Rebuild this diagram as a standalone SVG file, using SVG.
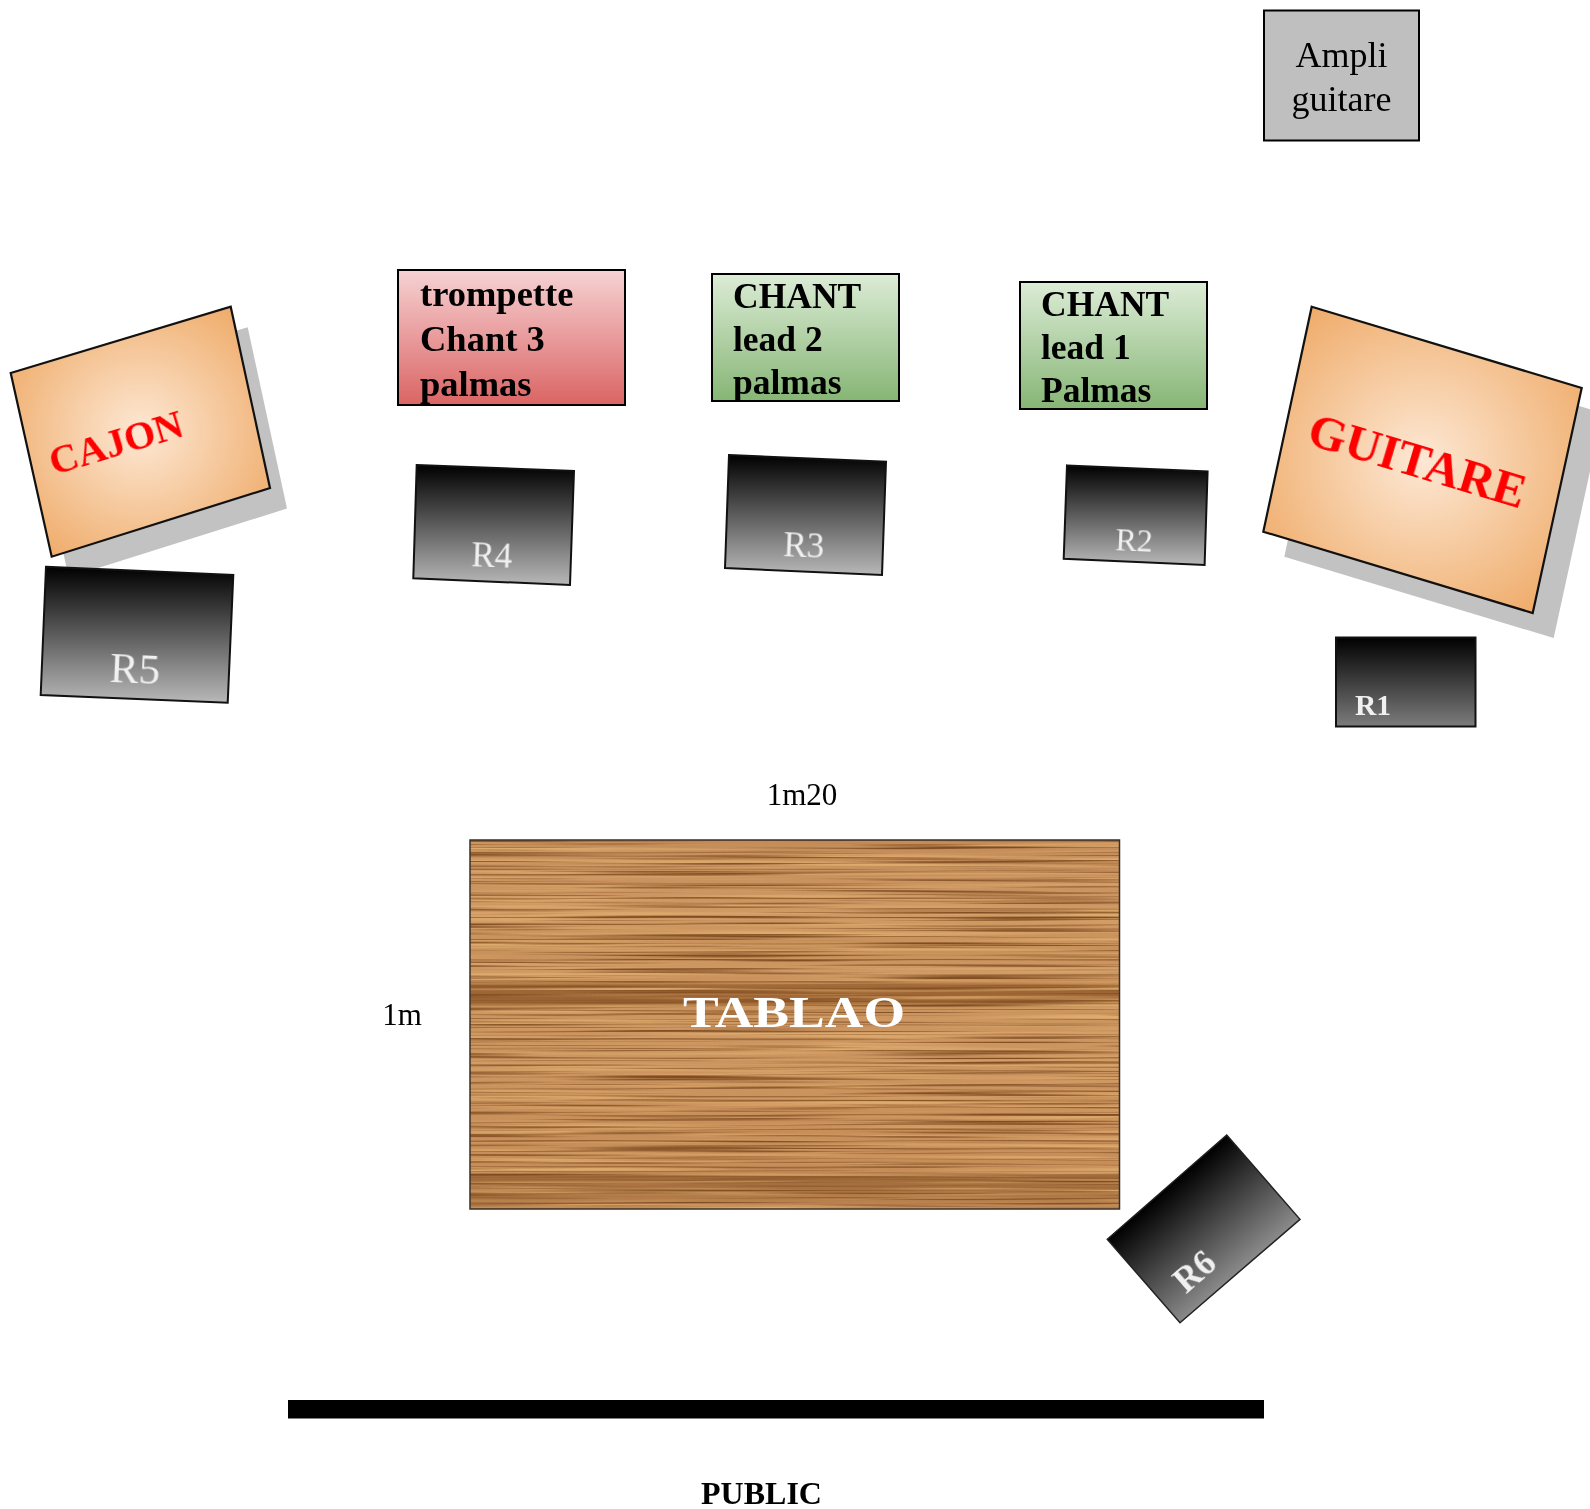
<svg xmlns="http://www.w3.org/2000/svg" width="1590" height="1509" viewBox="0 0 1590 1509">
<style>
text{font-family:"Liberation Serif","Times New Roman",serif;filter:url(#soft)}
.box{stroke:#000;stroke-width:2}
.b{font-weight:bold}
.ln{font-size:36.500px;font-weight:bold;fill:#000}
.ch{font-size:35.500px;font-weight:bold;fill:#000}
.spk{stroke:#111;stroke-width:2;fill:url(#gSpk)}
.lab{fill:#f0f0f0}
.inst{stroke:#111;stroke-width:2.200;fill:url(#gInst)}
.shadow{fill:#c2c2c2}
.red{fill:#f00;font-weight:bold;text-anchor:middle}
</style>
<defs>
<filter id="soft" x="-5%" y="-10%" width="110%" height="120%"><feGaussianBlur stdDeviation="0.45"/></filter>
<linearGradient id="gSpk" x1="0" y1="0" x2="0" y2="1"><stop offset="0" stop-color="#000"/><stop offset="1" stop-color="#b8b8b8"/></linearGradient>
<linearGradient id="gR1" x1="0" y1="0" x2="0" y2="1"><stop offset="0" stop-color="#000"/><stop offset="1" stop-color="#7c7c7c"/></linearGradient>
<linearGradient id="gR6" gradientUnits="userSpaceOnUse" x1="1167" y1="1187" x2="1240" y2="1271"><stop offset="0" stop-color="#000"/><stop offset="1" stop-color="#8a8a8a"/></linearGradient>
<linearGradient id="gRed" x1="0" y1="0" x2="0" y2="1"><stop offset="0" stop-color="#f6d2d3"/><stop offset="1" stop-color="#db6464"/></linearGradient>
<linearGradient id="gGreen" x1="0" y1="0" x2="0" y2="1"><stop offset="0" stop-color="#dcecd6"/><stop offset="1" stop-color="#86b575"/></linearGradient>
<radialGradient id="gInst" cx="0.5" cy="0.5" r="0.6"><stop offset="0" stop-color="#fde8d4"/><stop offset="1" stop-color="#efac6b"/></radialGradient>
<linearGradient id="gWood" x1="0" y1="0" x2="0" y2="1">
<stop offset="0" stop-color="#c48c58"/><stop offset="0.1" stop-color="#c9915e"/><stop offset="0.2" stop-color="#cf9a64"/>
<stop offset="0.3" stop-color="#c8905a"/><stop offset="0.36" stop-color="#cf9a65"/><stop offset="0.385" stop-color="#c58c56"/>
<stop offset="0.395" stop-color="#a06836"/><stop offset="0.44" stop-color="#9a6232"/><stop offset="0.455" stop-color="#cc955f"/>
<stop offset="0.6" stop-color="#cd9661"/><stop offset="0.75" stop-color="#c9905b"/><stop offset="0.9" stop-color="#c68d58"/>
<stop offset="0.91" stop-color="#a06a3a"/><stop offset="0.96" stop-color="#ac7543"/><stop offset="1" stop-color="#c68d58"/>
</linearGradient>
<filter id="grain" x="0" y="0" width="1" height="1" color-interpolation-filters="sRGB">
<feTurbulence type="fractalNoise" baseFrequency="0.0035 0.42" numOctaves="2" seed="7" result="n"/>
<feColorMatrix in="n" type="matrix" values="0 0 0 0 0.5  0 0 0 0 0.3  0 0 0 0 0.13  3.4 0 0 0 -1.65" result="dark"/>
<feTurbulence type="fractalNoise" baseFrequency="0.003 0.25" numOctaves="2" seed="21" result="m"/>
<feColorMatrix in="m" type="matrix" values="0 0 0 0 0.87  0 0 0 0 0.67  0 0 0 0 0.43  3 0 0 0 -1.4" result="light"/>
<feMerge result="mix"><feMergeNode in="SourceGraphic"/><feMergeNode in="light"/><feMergeNode in="dark"/></feMerge>
<feGaussianBlur in="mix" stdDeviation="0.6 0.4"/>
</filter>
</defs>
<rect width="1590" height="1509" fill="#fff"/>

<g id="ampli"><rect class="box" x="1264" y="10.500" width="155" height="130" fill="#bfbfbf"/>
<text x="1341.500" y="67" font-size="36" text-anchor="middle">Ampli</text>
<text x="1341.500" y="111" font-size="36" text-anchor="middle">guitare</text></g>

<g id="trompette"><rect class="box" x="398" y="270" width="227" height="135" fill="url(#gRed)"/>
<text class="ln" x="420" y="306">trompette</text><text class="ln" x="420" y="351">Chant 3</text><text class="ln" x="420" y="396">palmas</text></g>

<g id="chant2"><rect class="box" x="712" y="274" width="187" height="127" fill="url(#gGreen)"/>
<text class="ch" x="733" y="308">CHANT</text><text class="ch" x="733" y="351">lead 2</text><text class="ch" x="733" y="394">palmas</text></g>

<g id="chant1"><rect class="box" x="1020" y="282" width="187" height="127" fill="url(#gGreen)"/>
<text class="ch" x="1041" y="316">CHANT</text><text class="ch" x="1041" y="359">lead 1</text><text class="ch" x="1041" y="402">Palmas</text></g>

<g id="cajon">
<polygon class="shadow" points="27.700,393.500 247.700,327.200 287,508.500 68.700,577.200"/>
<polygon class="inst" points="10.700,373 230.700,306.700 270,488 51.700,556.700"/>
<text class="red" x="115.500" y="456" font-size="40" transform="rotate(-16.800 115.500 441)">CAJON</text></g>

<g id="guitare">
<polygon class="shadow" points="1332.700,331.700 1602.700,413 1553.700,638 1284.300,556.700"/>
<polygon class="inst" points="1311.700,306.700 1581.700,388 1532.700,613 1263.300,531.700"/>
<text class="red" x="1417.500" y="477" font-size="49" transform="rotate(16.760 1417.500 461)">GUITARE</text></g>

<g id="R1"><rect x="1336" y="637.500" width="139.500" height="89" stroke="#111" stroke-width="2" fill="url(#gR1)"/>
<text class="lab b" x="1355" y="715" font-size="29.500">R1</text></g>

<g id="R2"><polygon class="spk" points="1067,465.400 1207.600,471.500 1204.600,565 1063.700,558.700"/>
<text class="lab" x="1115.500" y="551" font-size="32" transform="rotate(2.500 1135 540)">R2</text></g>

<g id="R3"><polygon class="spk" points="729,455 886,461.700 882,575 725,568"/>
<text class="lab" x="783.500" y="556.500" font-size="35" transform="rotate(2.400 805 545)">R3</text></g>

<g id="R4"><polygon class="spk" points="416.700,465 574,471 570,585 413.300,578.300"/>
<text class="lab" x="471.500" y="567" font-size="35" transform="rotate(2.200 492 555)">R4</text></g>

<g id="R5"><polygon class="spk" points="46,566.700 233.300,575 227.700,702.700 40.700,695"/>
<text class="lab" x="110" y="683" font-size="43" transform="rotate(2.540 135 668)">R5</text></g>

<g id="R6"><polygon points="1226.700,1135 1300,1219.300 1180,1322.700 1107.300,1239.300" stroke="#222" stroke-width="1.500" fill="url(#gR6)"/>
<text class="lab b" x="1195" y="1283" font-size="35" text-anchor="middle" transform="rotate(-41 1195 1272)">R6</text></g>

<text id="dim-w" x="802" y="805" font-size="31" text-anchor="middle">1m20</text>
<text id="dim-h" x="402" y="1025" font-size="31" text-anchor="middle">1m</text>

<g id="tablao">
<rect x="470" y="840" width="649.500" height="369" fill="url(#gWood)" filter="url(#grain)"/>
<rect x="470" y="840" width="649.500" height="369" fill="none" stroke="#3a3028" stroke-width="1.500"/>
<text class="b" x="683" y="1027" font-size="45" fill="#fff" textLength="222" lengthAdjust="spacingAndGlyphs">TABLAO</text></g>

<g id="public"><rect x="288" y="1400" width="976" height="18.500" fill="#000"/>
<text class="b" x="761.500" y="1504" font-size="32" text-anchor="middle">PUBLIC</text></g>
</svg>
